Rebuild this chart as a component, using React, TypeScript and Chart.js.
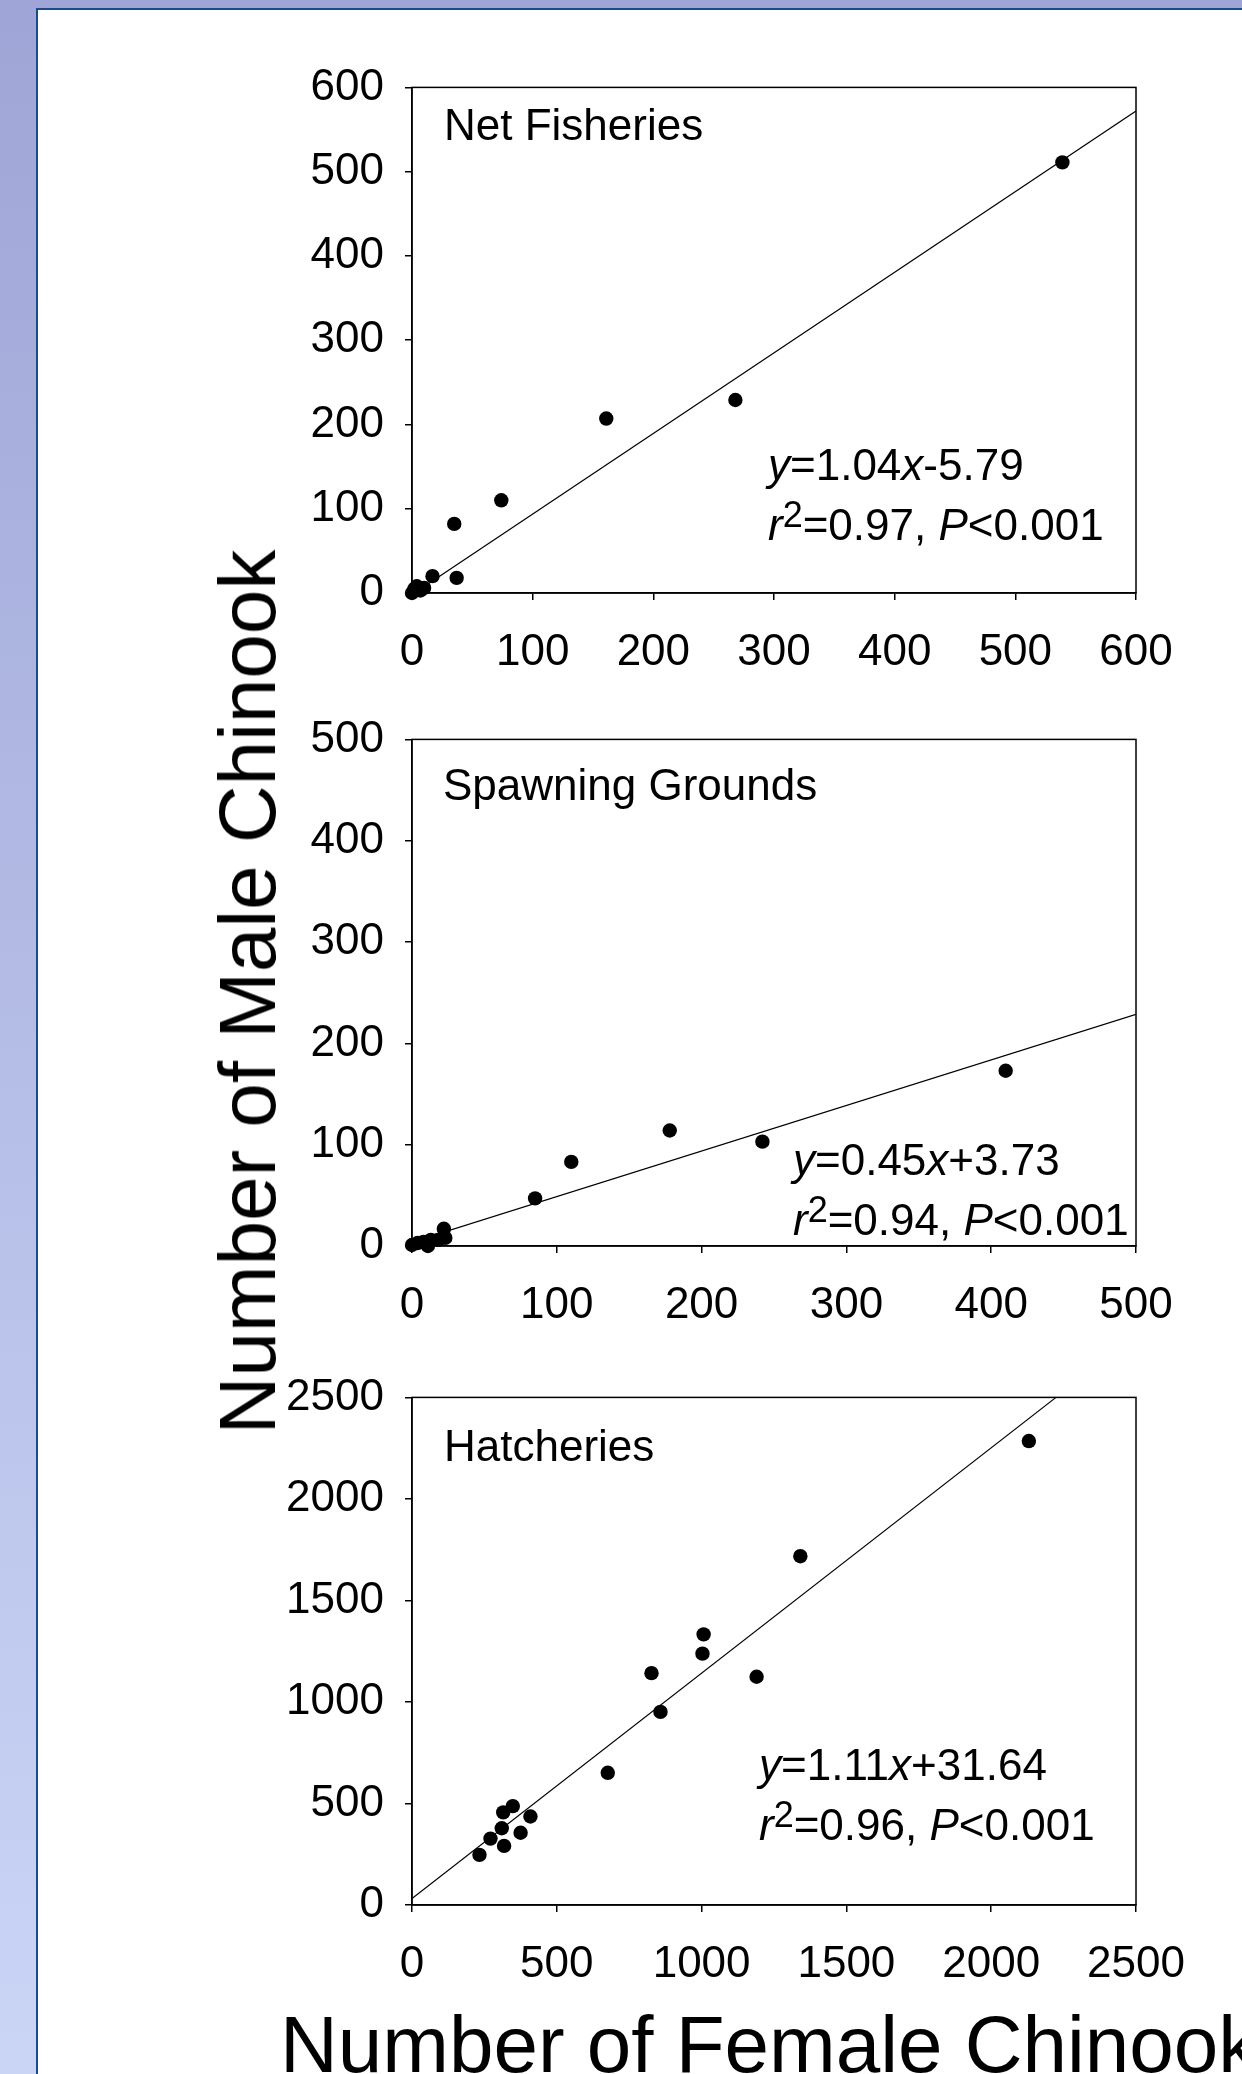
import React, { useEffect, useRef } from 'react';
import { Chart, registerables } from 'chart.js';

Chart.register(...registerables);

const FONT = "'Liberation Sans', Arial, Helvetica, sans-serif";

// ---------- Data ----------
// Net Fisheries
const netFemale = [0, 2, 4, 7, 10, 17, 37, 35, 74, 161, 268, 539];
const netMale = [0, 5, 8, 3, 6, 20, 18, 82, 110, 207, 229, 511];
const netFitX = [0, 600];
const netFitY = [-2, 572];
const netTicks = [0, 100, 200, 300, 400, 500, 600];

// Spawning Grounds
const spawnFemale = [0, 4, 8, 11, 13, 18, 22, 23, 85, 110, 178, 242, 410];
const spawnMale = [1, 3, 4, 0, 6, 6, 17, 8, 47, 83, 114, 103, 173];
const spawnFitX = [0, 500];
const spawnFitY = [3.73, 228.73];
const spawnTicks = [0, 100, 200, 300, 400, 500];

// Hatcheries
const hatchFemale = [233, 271, 318, 310, 315, 348, 375, 409, 676, 827, 858, 1003, 1007, 1190, 1341, 2130];
const hatchMale = [247, 327, 291, 378, 456, 487, 356, 436, 651, 1142, 951, 1238, 1333, 1124, 1718, 2285];
const hatchFitX = [0, 2224];
const hatchFitY = [32, 2500];
const hatchTicks = [0, 500, 1000, 1500, 2000, 2500];

const panelLabels = ['Net Fisheries', 'Spawning Grounds', 'Hatcheries'];
const eqLines = ['1.04', '-5.79', '0.45', '+3.73', '1.11', '+31.64'];
const r2Values = ['0.97', '0.94', '0.96'];

type Part = { t: string; italic?: boolean; sup?: boolean };

function drawRich(ctx: CanvasRenderingContext2D, parts: Part[], x: number, y: number, size: number) {
  let cx = x;
  for (const p of parts) {
    const fs = p.sup ? Math.round(size * 0.82) : size;
    ctx.font = `${p.italic ? 'italic ' : ''}${fs}px ${FONT}`;
    const dy = p.sup ? -size * 0.3 : 0;
    ctx.fillText(p.t, cx, y + dy);
    cx += ctx.measureText(p.t).width;
  }
}

const CANVAS_LEFT = 240;
const CANVAS_W = 1242 - CANVAS_LEFT;
const PLOT_LEFT = 412;
const PLOT_RIGHT = 1136;
const PAD_TOP = 40;
const TOP_SHIFT = 5;
const X_AXIS_H = 100;

type PanelProps = {
  idx: number;
  xs: number[];
  ys: number[];
  fitX: number[];
  fitY: number[];
  ticks: number[];
  plotTop: number;
  plotH: number;
  labelPos: [number, number];
  eqPos: [number, number];
};

function Panel(props: PanelProps) {
  const ref = useRef<HTMLCanvasElement>(null);
  const { idx, xs, ys, fitX, fitY, ticks, plotTop, plotH, labelPos, eqPos } = props;
  const canvasH = plotH + PAD_TOP + TOP_SHIFT + X_AXIS_H;

  useEffect(() => {
    if (!ref.current) return;
    const pts = xs.map((x, i) => ({ x, y: ys[i] }));
    const fit = fitX.map((x, i) => ({ x, y: fitY[i] }));
    const step = ticks[1] - ticks[0];

    const annot = {
      id: 'annot' + idx,
      beforeDatasetsDraw(chart: any) {
        const { ctx, chartArea: a } = chart;
        ctx.save();
        ctx.strokeStyle = '#000';
        ctx.lineWidth = 1.5;
        ctx.strokeRect(a.left, a.top, a.right - a.left, a.bottom - a.top);
        ctx.restore();
      },
      afterDraw(chart: any) {
        const { ctx, chartArea: a } = chart;
        ctx.save();
        ctx.fillStyle = '#000';
        ctx.textBaseline = 'alphabetic';
        ctx.textAlign = 'left';
        ctx.font = `44px ${FONT}`;
        ctx.fillText(panelLabels[idx], a.left + labelPos[0], a.top + labelPos[1]);
        const eq: Part[] = [
          { t: 'y', italic: true },
          { t: '=' + eqLines[idx * 2] },
          { t: 'x', italic: true },
          { t: eqLines[idx * 2 + 1] },
        ];
        const r2: Part[] = [
          { t: 'r', italic: true },
          { t: '2', sup: true },
          { t: '=' + r2Values[idx] + ', ' },
          { t: 'P', italic: true },
          { t: '<0.001' },
        ];
        drawRich(ctx, eq, a.left + eqPos[0], a.top + eqPos[1], 44);
        drawRich(ctx, r2, a.left + eqPos[0], a.top + eqPos[1] + 60, 44);
        ctx.restore();
      },
    };

    const axisCommon = {
      type: 'linear' as const,
      min: ticks[0],
      max: ticks[ticks.length - 1],
      border: { display: true, color: '#000', width: 1.5 },
      grid: {
        drawOnChartArea: false,
        drawTicks: true,
        tickLength: 7,
        color: '#000',
        lineWidth: 1.5,
      },
    };

    const chart = new Chart(ref.current, {
      type: 'scatter',
      data: {
        datasets: [
          {
            data: pts,
            pointRadius: 7.2,
            pointHoverRadius: 7.2,
            backgroundColor: '#000',
            borderWidth: 0,
            clip: false,
          } as any,
          {
            type: 'line',
            data: fit,
            showLine: true,
            borderColor: '#000',
            borderWidth: 1.2,
            pointRadius: 0,
            fill: false,
            clip: 0,
          } as any,
        ],
      },
      options: {
        animation: false,
        responsive: false,
        events: [],
        layout: { padding: { top: PAD_TOP, right: CANVAS_W - (PLOT_RIGHT - CANVAS_LEFT), left: 0, bottom: 0 } },
        plugins: { legend: { display: false }, tooltip: { enabled: false } },
        scales: {
          x: {
            ...axisCommon,
            position: 'bottom',
            afterFit: (s: any) => {
              s.height = X_AXIS_H;
            },
            ticks: {
              stepSize: step,
              color: '#000',
              padding: 26,
              maxRotation: 0,
              autoSkip: false,
              font: { family: FONT, size: 44 },
              callback: (v: any) => String(v),
            },
          },
          y: {
            ...axisCommon,
            position: 'left',
            afterFit: (s: any) => {
              s.width = PLOT_LEFT - CANVAS_LEFT;
            },
            ticks: {
              stepSize: step,
              color: '#000',
              padding: 21,
              autoSkip: false,
              font: { family: FONT, size: 44 },
              callback: (v: any) => String(v),
            },
          },
        } as any,
      },
      plugins: [annot],
    } as any);
    return () => chart.destroy();
  }, []);

  return (
    <canvas
      ref={ref}
      width={CANVAS_W}
      height={canvasH}
      style={{
        position: 'absolute',
        left: CANVAS_LEFT,
        top: plotTop - PAD_TOP - TOP_SHIFT,
        width: CANVAS_W,
        height: canvasH,
      }}
    />
  );
}

export default function App() {
  return (
    <div
      style={{
        position: 'absolute',
        left: 0,
        top: 0,
        width: 1242,
        height: 2074,
        overflow: 'hidden',
        background: 'linear-gradient(to bottom, #9fa5d6, #cad5f6)',
        fontFamily: FONT,
      }}
    >
      <div
        style={{
          position: 'absolute',
          left: 36,
          top: 8,
          width: 1300,
          height: 2200,
          background: '#fff',
          borderLeft: '2px solid #1f4a88',
          borderTop: '2px solid #1f4a88',
        }}
      />
      <Panel idx={0} xs={netFemale} ys={netMale} fitX={netFitX} fitY={netFitY} ticks={netTicks}
        plotTop={85} plotH={508} labelPos={[32, 53]} eqPos={[356, 393]} />
      <Panel idx={1} xs={spawnFemale} ys={spawnMale} fitX={spawnFitX} fitY={spawnFitY} ticks={spawnTicks}
        plotTop={737} plotH={509} labelPos={[31, 61]} eqPos={[381, 436]} />
      <Panel idx={2} xs={hatchFemale} ys={hatchMale} fitX={hatchFitX} fitY={hatchFitY} ticks={hatchTicks}
        plotTop={1395} plotH={510} labelPos={[32, 64]} eqPos={[347, 383]} />
      <div
        style={{
          position: 'absolute',
          left: 248,
          top: 992,
          transform: 'translate(-50%, -50%) rotate(-90deg)',
          fontSize: 80,
          lineHeight: 1,
          whiteSpace: 'nowrap',
          color: '#000',
        }}
      >
        Number of Male Chinook
      </div>
      <div
        style={{
          position: 'absolute',
          left: 280,
          top: 2005,
          fontSize: 80,
          lineHeight: 1,
          whiteSpace: 'nowrap',
          color: '#000',
        }}
      >
        Number of Female Chinook
      </div>
    </div>
  );
}
